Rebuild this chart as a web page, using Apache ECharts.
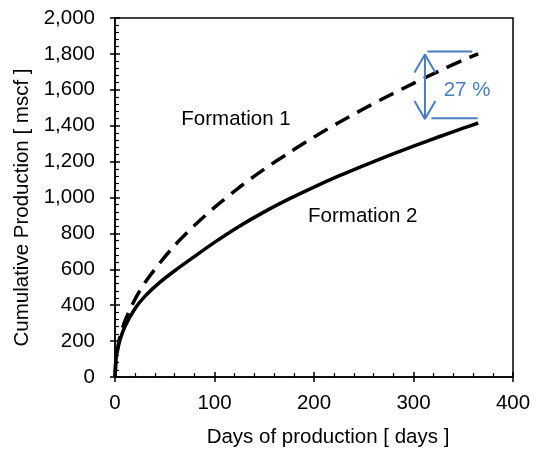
<!DOCTYPE html>
<html><head><meta charset="utf-8">
<script src="https://cdn.jsdelivr.net/npm/echarts@6/dist/echarts.min.js"></script>
<style>html,body{margin:0;padding:0;background:#fff}#c{width:536px;height:449px}</style>
</head><body><div id="c"></div>
<script>
// ---- data ----
const days = [0, 1, 2, 5, 10, 20, 30, 45, 60, 80, 100, 125, 150, 175, 200, 225, 250, 275, 300, 325, 350, 365];
const formation1 = [0, 102, 142, 225, 312, 432, 525, 635, 733, 845, 945, 1057, 1158, 1250, 1337, 1418, 1494, 1567, 1636, 1703, 1766, 1800];
const formation2 = [0, 97, 134, 206, 281, 380, 449, 527, 592, 672, 750, 840, 920, 992, 1058, 1120, 1178, 1233, 1286, 1337, 1386, 1415];
const xTicks = [0, 100, 200, 300, 400];
const yTicks = [0, 200, 400, 600, 800, 1000, 1200, 1400, 1600, 1800, 2000];
const labelF1 = 'Formation 1', labelF2 = 'Formation 2', labelPct = '27 %';
// annotation anchors (data coordinates)
const arrowX = 311.5, arrowTop = 1797, arrowBottom = 1437;
const topRef = [[314, 1813], [359, 1813]];
const botRef = [[318, 1441], [364.5, 1441]];

const blue = '#4a7ebb';
const font = 'Liberation Sans, Arial, sans-serif';
const fs = 20.5;

function pairs(xs, ys){ return xs.map((x,i)=>[x, ys[i]]); }
const hw = 10.5, hl = 100;
const lineStyleBlue = {color: blue, width: 2};
function seg(data){
  return {type:'line', data, symbol:'none', silent:true, lineStyle:lineStyleBlue, z:5, animation:false};
}

const chart = echarts.init(document.getElementById('c'), null, {renderer:'canvas'});
const baseX = {type:'value', min:xTicks[0], max:xTicks[xTicks.length-1], interval:100};
const baseY = {type:'value', min:yTicks[0], max:yTicks[yTicks.length-1], interval:200};
chart.setOption({
  animation:false,
  grid:{left:115, right:23, top:18, bottom:72, containLabel:false, outerBoundsMode:'none',
    show:true, borderColor:'#000', borderWidth:1.5, backgroundColor:'transparent'},
  xAxis:[
    Object.assign({}, baseX, {
      axisLine:{lineStyle:{color:'#000', width:1.5}},
      axisTick:{show:true, inside:false, length:5, lineStyle:{color:'#000', width:1.5}},
      axisLabel:{color:'#000', fontFamily:font, fontSize:fs, margin:16},
      splitLine:{show:false},
      name:'Days of production [ days ]', nameLocation:'middle', nameGap:50,
      nameTextStyle:{color:'#000', fontFamily:font, fontSize:fs, padding:[0,0,0,28]}
    }),
    Object.assign({}, baseX, {
      position:'bottom',
      axisLine:{show:false},
      axisTick:{show:true, inside:true, length:5, lineStyle:{color:'#000', width:1.5}},
      minorTick:{show:true, splitNumber:5, length:4, lineStyle:{color:'#000', width:1.2}},
      axisLabel:{show:false}, splitLine:{show:false}
    })
  ],
  yAxis:[
    Object.assign({}, baseY, {
      axisLine:{lineStyle:{color:'#000', width:1.5}},
      axisTick:{show:true, inside:false, length:5, lineStyle:{color:'#000', width:1.5}},
      axisLabel:{color:'#000', fontFamily:font, fontSize:fs, margin:20,
        formatter:v=>v.toLocaleString('en-US')},
      splitLine:{show:false},
      name:'Cumulative Production [ mscf ]', nameLocation:'middle', nameGap:80,
      nameTextStyle:{color:'#000', fontFamily:font, fontSize:fs, padding:[0,20,0,0]}
    }),
    Object.assign({}, baseY, {
      position:'left',
      axisLine:{show:false},
      axisTick:{show:true, inside:true, length:5, lineStyle:{color:'#000', width:1.5}},
      minorTick:{show:true, splitNumber:5, length:4, lineStyle:{color:'#000', width:1.2}},
      axisLabel:{show:false}, splitLine:{show:false}
    })
  ],
  series:[
    {name:labelF1, type:'line', data:pairs(days, formation1), symbol:'none', smooth:0.25,
      lineStyle:{color:'#000', width:3.5, type:[16,9]}, z:3},
    {name:labelF2, type:'line', data:pairs(days, formation2), symbol:'none', smooth:0.25,
      lineStyle:{color:'#000', width:3.5}, z:3},
    seg([[arrowX, arrowTop],[arrowX, arrowBottom]]),
    seg([[arrowX-hw, arrowTop-hl],[arrowX, arrowTop],[arrowX+hw, arrowTop-hl]]),
    seg([[arrowX-hw, arrowBottom+hl],[arrowX, arrowBottom],[arrowX+hw, arrowBottom+hl]]),
    seg(topRef),
    seg(botRef),
    {type:'scatter', symbolSize:0, silent:true, z:6, itemStyle:{opacity:1},
      data:[
        {value:[121.6, 1437], label:{show:true, formatter:labelF1, color:'#000'}},
        {value:[249, 897], label:{show:true, formatter:labelF2, color:'#000'}},
        {value:[353.8, 1599], label:{show:true, formatter:labelPct, color:blue}}
      ],
      label:{position:'inside', fontFamily:font, fontSize:fs, opacity:1}
    }
  ]
});
</script>
</body></html>
